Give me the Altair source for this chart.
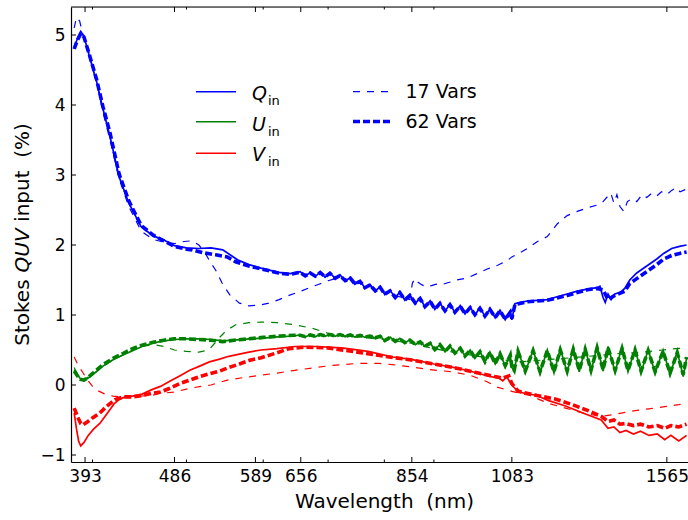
import altair as alt
import pandas as pd

# ---------------- data ----------------
# Q input (blue, solid)
q_in_wl = [383, 386, 389, 392, 397, 404, 410, 417, 426, 436, 449, 462, 474, 486, 500, 515, 530, 545, 556, 566, 580, 597, 622, 640,
           655, 663, 671, 679, 687, 695, 703, 712, 720, 729, 738, 746, 755, 764, 773, 783, 792, 801, 811, 821, 830, 840, 850,
           861, 871, 881, 892, 902, 913, 924, 935, 946, 958, 969, 981, 992, 1004, 1016, 1028, 1041, 1053, 1066, 1079, 1083,
           1091, 1105, 1124, 1151, 1178, 1206, 1235, 1265, 1295, 1326, 1335, 1345, 1352, 1361, 1371, 1383, 1400, 1416, 1433,
           1457, 1492, 1528, 1553, 1583, 1613, 1640]
q_in_val = [4.83, 4.95, 5.05, 4.98, 4.7, 4.33, 3.95, 3.55, 2.98, 2.6, 2.26, 2.13, 2.07, 1.99, 1.96, 1.95, 1.96, 1.93, 1.85, 1.78, 1.72, 1.67, 1.61, 1.59,
            1.62, 1.555, 1.61, 1.55, 1.615, 1.54, 1.605, 1.52, 1.575, 1.485, 1.535, 1.44, 1.49, 1.385, 1.44, 1.34, 1.405, 1.29, 1.355,
            1.245, 1.33, 1.21, 1.29, 1.165, 1.245, 1.115, 1.205, 1.08, 1.175, 1.055, 1.155, 1.035, 1.135, 1.015, 1.115, 1.0, 1.105,
            0.98, 1.09, 0.96, 1.07, 0.93, 1.05, 0.93,
            1.16, 1.18, 1.2, 1.21, 1.22, 1.26, 1.3, 1.34, 1.37, 1.39, 1.41, 1.25, 1.18, 1.3, 1.22, 1.3, 1.32, 1.38, 1.5,
            1.6, 1.7, 1.8, 1.88, 1.95, 1.98, 2.0]

# Q, 62 Vars (blue, thick dashed)
q62_wl = [383, 386, 389, 392, 397, 404, 410, 417, 426, 436, 449, 462, 474, 486, 500, 507, 520, 536, 551, 562, 580, 597, 622, 640,
          655, 663, 671, 679, 687, 695, 703, 712, 720, 729, 738, 746, 755, 764, 773, 783, 792, 801, 811, 821, 830, 840, 850,
          861, 871, 881, 892, 902, 913, 924, 935, 946, 958, 969, 981, 992, 1004, 1016, 1028, 1041, 1053, 1066, 1079, 1083,
          1091, 1124, 1178, 1235, 1295, 1326, 1345, 1361, 1383, 1416, 1433, 1457, 1492, 1528, 1553, 1583, 1613, 1640]
q62_val = [4.8, 4.93, 5.02, 4.97, 4.72, 4.36, 3.98, 3.6, 3.02, 2.63, 2.28, 2.14, 2.06, 1.98, 1.94, 1.93, 1.89, 1.86, 1.83, 1.76, 1.7, 1.66, 1.6, 1.58,
           1.61, 1.56, 1.6, 1.555, 1.605, 1.545, 1.595, 1.525, 1.565, 1.49, 1.525, 1.445, 1.48, 1.39, 1.43, 1.345, 1.395, 1.295,
           1.345, 1.25, 1.32, 1.215, 1.28, 1.17, 1.235, 1.12, 1.195, 1.085, 1.165, 1.06, 1.145, 1.04, 1.125, 1.02, 1.105, 1.005,
           1.095, 0.985, 1.08, 0.965, 1.06, 0.94, 1.04, 0.95,
           1.15, 1.19, 1.21, 1.28, 1.36, 1.38, 1.36, 1.22, 1.28, 1.34, 1.45, 1.52, 1.62, 1.72, 1.8, 1.85, 1.88, 1.9]

# Q, 17 Vars (blue, thin dashed)
q17_wl = [383, 385, 388, 391, 395, 400, 405, 410, 417, 426, 436, 449, 462, 474, 486, 497, 507, 515, 522, 529, 536, 544, 554, 567,
          580, 594, 608, 623, 638, 653, 670, 685, 700, 717, 735, 755, 775, 800, 825, 850, 855, 860, 866, 875, 885, 895, 905, 915,
          930, 950, 975, 1000, 1023, 1047, 1072, 1083, 1098, 1124, 1151, 1178, 1206, 1235, 1265, 1295, 1326, 1345, 1361, 1370,
          1380, 1390, 1400, 1413, 1425, 1440, 1457, 1475, 1492, 1510, 1528, 1545, 1565, 1583, 1600, 1615, 1640]
q17_val = [5.1, 5.25, 5.2, 5.0, 4.85, 4.55, 4.25, 3.9, 3.5, 2.95, 2.55, 2.2, 2.08, 2.04, 2.02, 2.05, 2.06, 2.0, 1.9, 1.76, 1.64, 1.46,
           1.29, 1.17, 1.13, 1.14, 1.17, 1.22, 1.28, 1.33, 1.39, 1.44, 1.49, 1.53, 1.5, 1.45, 1.4, 1.33, 1.27, 1.22, 1.45, 1.52,
           1.47, 1.43, 1.4, 1.42, 1.44, 1.43, 1.46, 1.5, 1.53, 1.6, 1.66, 1.71, 1.78, 1.83, 1.87, 1.95, 2.05, 2.12, 2.3, 2.42,
           2.48, 2.53, 2.57, 2.62, 2.7, 2.74, 2.6, 2.72, 2.55, 2.48, 2.62, 2.66, 2.62, 2.72, 2.68, 2.74, 2.7, 2.76, 2.72, 2.78,
           2.82, 2.76, 2.8]

# U input (green, solid)
u_in_wl = [383, 386, 389, 392, 396, 402, 410, 420, 430, 440, 450, 462, 474, 486, 500, 515, 530, 545, 560, 580, 600, 625, 645,
           655, 663, 671, 679, 687, 695, 703, 712, 720, 729, 738, 746, 755, 764, 773, 783, 792, 801, 811, 821, 830, 840, 850,
           861, 871, 881, 892, 902, 913, 924, 935, 946, 958, 969, 981, 992, 1004, 1016, 1028, 1041, 1053, 1066, 1079,
           1083, 1089, 1099, 1118, 1139, 1158, 1178, 1197, 1215, 1235, 1253, 1271, 1289, 1307, 1326, 1345, 1361, 1384, 1407,
           1427, 1451, 1472, 1497, 1522, 1551, 1577, 1604, 1627, 1640]
u_in_val = [0.22, 0.15, 0.08, 0.06, 0.1, 0.17, 0.27, 0.36, 0.43, 0.49, 0.55, 0.6, 0.63, 0.65, 0.66, 0.66, 0.65, 0.63, 0.64, 0.66, 0.67, 0.69, 0.70,
            0.715, 0.685, 0.72, 0.69, 0.725, 0.695, 0.725, 0.695, 0.725, 0.69, 0.72, 0.685, 0.715, 0.68, 0.705, 0.67, 0.7, 0.63,
            0.685, 0.62, 0.665, 0.6, 0.645, 0.575, 0.62, 0.55, 0.6, 0.5, 0.58, 0.475, 0.56, 0.45, 0.53, 0.41, 0.5, 0.38, 0.48,
            0.33, 0.47, 0.3, 0.45, 0.27, 0.43,
            0.25, 0.2, 0.5, 0.18, 0.5, 0.17, 0.5, 0.17, 0.52, 0.18, 0.53, 0.19, 0.53, 0.19, 0.56, 0.2, 0.55, 0.19, 0.55,
            0.19, 0.52, 0.18, 0.5, 0.17, 0.5, 0.15, 0.48, 0.12, 0.38]

# U, 62 Vars (green, thick dashed)
u62_wl = u_in_wl
u62_val = [0.2, 0.13, 0.08, 0.07, 0.11, 0.19, 0.29, 0.38, 0.45, 0.52, 0.57, 0.61, 0.64, 0.66, 0.66, 0.65, 0.64, 0.62, 0.64, 0.66, 0.68, 0.70, 0.71,
           0.71, 0.69, 0.715, 0.695, 0.72, 0.7, 0.72, 0.7, 0.72, 0.695, 0.715, 0.69, 0.71, 0.685, 0.7, 0.675, 0.695, 0.635, 0.68,
           0.625, 0.66, 0.605, 0.64, 0.58, 0.615, 0.555, 0.595, 0.505, 0.575, 0.48, 0.555, 0.455, 0.525, 0.415, 0.495, 0.385,
           0.475, 0.335, 0.465, 0.305, 0.445, 0.275, 0.425,
           0.26, 0.21, 0.48, 0.2, 0.49, 0.19, 0.49, 0.19, 0.5, 0.2, 0.51, 0.21, 0.51, 0.21, 0.53, 0.22, 0.53, 0.21, 0.52,
           0.21, 0.5, 0.2, 0.49, 0.19, 0.48, 0.17, 0.46, 0.15, 0.4]

# U, 17 Vars (green, thin dashed)
u17_wl = [383, 387, 392, 400, 410, 420, 430, 440, 450, 462, 474, 486, 500, 515, 527, 535, 541, 550, 562, 580, 597, 620, 647, 674,
          700, 720, 760, 800, 850, 900, 950, 1000, 1050, 1083, 1100, 1150, 1200, 1250, 1300, 1350, 1400, 1450, 1500, 1550, 1600, 1640]
u17_val = [0.25, 0.12, 0.08, 0.15, 0.26, 0.36, 0.43, 0.5, 0.55, 0.58, 0.55, 0.5, 0.48, 0.47, 0.5, 0.6, 0.68, 0.78, 0.86, 0.89,
           0.9, 0.89, 0.86, 0.81, 0.74, 0.71, 0.68, 0.65, 0.6, 0.52, 0.46, 0.41, 0.37, 0.34, 0.33, 0.35, 0.37, 0.39, 0.41, 0.43,
           0.45, 0.46, 0.48, 0.5, 0.52, 0.53]

# V input (red, solid)
v_in_wl = [383, 385, 387, 389, 392, 396, 401, 407, 412, 417, 421, 426, 432, 440, 450, 460, 470, 480, 492, 504, 516, 528, 541, 553,
           567, 580, 597, 620, 647, 680, 723, 770, 816, 850, 900, 937, 980, 1010, 1030, 1050, 1060, 1070, 1078, 1083, 1100, 1150,
           1180, 1230, 1282, 1339, 1361, 1380, 1400, 1420, 1446, 1470, 1500, 1530, 1557, 1580, 1610, 1640]
v_in_val = [-0.4, -0.62, -0.8, -0.87, -0.82, -0.72, -0.63, -0.55, -0.45, -0.35, -0.27, -0.21, -0.17, -0.16, -0.13, -0.07, -0.02,
            0.05, 0.13, 0.21, 0.27, 0.33, 0.37, 0.41, 0.44, 0.47, 0.5, 0.52, 0.55, 0.55, 0.53, 0.48, 0.4, 0.37, 0.3, 0.26, 0.2,
            0.15, 0.12, 0.1, 0.06, 0.12, 0.04, 0.0, -0.1, -0.15, -0.22, -0.3, -0.4, -0.5, -0.62, -0.6, -0.68, -0.65, -0.7, -0.66,
            -0.72, -0.7, -0.78, -0.72, -0.8, -0.72]

# V, 62 Vars (red, thick dashed)
v62_wl = [383, 386, 389, 391, 395, 400, 407, 414, 422, 430, 440, 450, 460, 470, 480, 492, 504, 516, 528, 541, 553, 567, 580, 597,
          620, 638, 660, 700, 750, 800, 850, 900, 950, 1000, 1040, 1060, 1075, 1083, 1100, 1150, 1200, 1250, 1300, 1340, 1361,
          1380, 1400, 1420, 1446, 1470, 1500, 1530, 1557, 1580, 1610, 1640]
v62_val = [-0.33, -0.45, -0.55, -0.57, -0.53, -0.47, -0.4, -0.3, -0.21, -0.17, -0.17, -0.15, -0.12, -0.1, -0.05, 0.02, 0.07, 0.12,
           0.16, 0.2, 0.25, 0.3, 0.35, 0.39, 0.46, 0.52, 0.54, 0.53, 0.47, 0.41, 0.36, 0.3, 0.24, 0.17, 0.12, 0.1, 0.13, 0.02,
           -0.09, -0.15, -0.2, -0.28, -0.37, -0.45, -0.52, -0.5, -0.56, -0.55, -0.58, -0.56, -0.6, -0.58, -0.62, -0.58, -0.6, -0.56]

# V, 17 Vars (red, thin dashed)
v17_wl = [383, 386, 390, 395, 400, 405, 412, 420, 430, 445, 460, 470, 486, 507, 530, 551, 575, 597, 620, 647, 680, 707, 753, 790,
          816, 850, 890, 937, 980, 1020, 1046, 1083, 1130, 1180, 1230, 1282, 1339, 1380, 1446, 1500, 1557, 1610, 1640]
v17_val = [0.4, 0.3, 0.2, 0.08, -0.02, -0.08, -0.13, -0.16, -0.17, -0.16, -0.15, -0.12, -0.1, -0.04, 0.0, 0.07, 0.11, 0.14, 0.17,
           0.21, 0.25, 0.28, 0.31, 0.31, 0.29, 0.26, 0.22, 0.19, 0.14, 0.05, -0.03, -0.09, -0.15, -0.26, -0.33, -0.4, -0.45, -0.42,
           -0.37, -0.34, -0.31, -0.28, -0.26]

# axis ticks / labels
x_major_ticks = [393, 486, 589, 656, 854, 1083, 1565]
x_minor_ticks = [400, 500, 600, 700, 800, 900]
y_ticks = [-1, 0, 1, 2, 3, 4, 5]

# ---------------- styling ----------------
W, H = 617, 455
BLUE, GREEN, RED = "#0000ff", "#008000", "#ff0000"
FONT = "DejaVu Sans"
SOLID_W, THIN_W, THICK_W = 1.7, 1.2, 3.6
THIN_DASH, THICK_DASH = [7, 7], [7, 3]

xscale = alt.Scale(type="log", domain=[380.1, 1645.6], nice=False)
yscale = alt.Scale(domain=[-1.1, 5.4], nice=False, zero=False)

xaxis = alt.Axis(values=x_major_ticks, format="d", labelFont=FONT, labelFontSize=17, labelColor="black",
                 labelPadding=6, tickSize=0, ticks=False, grid=False, domainColor="black", domainWidth=1.2,
                 labelFlush=False, labelOverlap=False,
                 title="Wavelength\u00a0 (nm)", titleFont=FONT, titleFontSize=20, titleFontWeight="normal",
                 titleColor="black", titleX=313, titleY=45, titleBaseline="alphabetic", titleAlign="center")
yaxis = alt.Axis(values=y_ticks, labelFont=FONT, labelFontSize=17, labelColor="black", labelPadding=6,
                 tickSize=0, ticks=False, grid=False, domainColor="black", domainWidth=1.2, title=None,
                 labelFlush=False, labelOverlap=False,
                 labelExpr="datum.value < 0 ? '\u2212' + format(-datum.value, 'd') : format(datum.value, 'd')")

X = lambda: alt.X("wl:Q", scale=xscale, axis=xaxis)
Y = lambda: alt.Y("val:Q", scale=yscale, axis=yaxis)


def series(wl, val, color, width, dash=None):
    kw = dict(color=color, strokeWidth=width, clip=True)
    if dash is not None:
        kw["strokeDash"] = dash
    return alt.Chart(pd.DataFrame({"wl": wl, "val": val})).mark_line(**kw).encode(x=X(), y=Y())


lines = [
    series(q_in_wl, q_in_val, BLUE, SOLID_W),
    series(u_in_wl, u_in_val, GREEN, SOLID_W),
    series(v_in_wl, v_in_val, RED, SOLID_W),
    series(q17_wl, q17_val, BLUE, THIN_W, THIN_DASH),
    series(u17_wl, u17_val, GREEN, THIN_W, THIN_DASH),
    series(v17_wl, v17_val, RED, THIN_W, THIN_DASH),
    series(q62_wl, q62_val, BLUE, THICK_W, THICK_DASH),
    series(u62_wl, u62_val, GREEN, THICK_W, THICK_DASH),
    series(v62_wl, v62_val, RED, THICK_W, THICK_DASH),
]

# inward ticks (matplotlib style) on bottom and top, and on the left
def xticks(values, length):
    df = pd.DataFrame({"wl": values})
    bottom = alt.Chart(df).mark_rule(color="black", strokeWidth=1).encode(
        x=X(), y=alt.value(H), y2=alt.value(H - length))
    top = alt.Chart(df).mark_rule(color="black", strokeWidth=1).encode(
        x=X(), y=alt.value(0), y2=alt.value(length))
    return [bottom, top]

ytick_layer = alt.Chart(pd.DataFrame({"val": y_ticks})).mark_rule(color="black", strokeWidth=1).encode(
    y=Y(), x=alt.value(0), x2=alt.value(5))

top_spine = alt.Chart().mark_rule(color="black", strokeWidth=1.2).encode(
    x=alt.value(0), x2=alt.value(W), y=alt.value(0))

# y-axis title with italic QUV
def ytitle_piece(text, ypos, italic=False):
    return alt.Chart().mark_text(angle=270, align="left", baseline="alphabetic", font=FONT, fontSize=20,
                                 fontStyle="italic" if italic else "normal", color="black").encode(
        x=alt.value(-42.5), y=alt.value(ypos), text=alt.value(text))

ytitle = [ytitle_piece("Stokes", 338.8), ytitle_piece("QUV", 265.4, True), ytitle_piece("input\u00a0 (%)", 214.9)]

# custom legend
def leg_line(x1, x2, y, color, width, dash=None):
    kw = dict(color=color, strokeWidth=width)
    if dash is not None:
        kw["strokeDash"] = dash
    return alt.Chart().mark_rule(**kw).encode(x=alt.value(x1), x2=alt.value(x2), y=alt.value(y))

def leg_text(x, y, text, size, italic=False):
    return alt.Chart().mark_text(align="left", baseline="alphabetic", font=FONT, fontSize=size,
                                 fontStyle="italic" if italic else "normal", color="black").encode(
        x=alt.value(x), y=alt.value(y), text=alt.value(text))

legend = []
for (name, color, ly, ty) in [("Q", BLUE, 84.7, 93), ("U", GREEN, 114.7, 123.5), ("V", RED, 146.3, 154)]:
    legend.append(leg_line(125, 165, ly, color, 1.6))
    legend.append(leg_text(181, ty, name, 19, True))
    legend.append(leg_text(197, ty + 5, "in", 13))
legend.append(leg_line(282, 320, 84.7, BLUE, THIN_W, THIN_DASH))
legend.append(leg_line(282, 320, 114.5, BLUE, THICK_W, THICK_DASH))
legend.append(leg_text(334.5, 91.3, "17 Vars", 19))
legend.append(leg_text(334.5, 121.3, "62 Vars", 19))

chart = alt.layer(
    *lines,
    *xticks(x_major_ticks, 5),
    *xticks(x_minor_ticks, 2.5),
    ytick_layer,
    top_spine,
    *ytitle,
    *legend,
).properties(
    width=W, height=H,
    padding={"left": 71, "top": 7, "right": 0, "bottom": 58},
    autosize=alt.AutoSizeParams(type="none"),
).configure_view(stroke=None).configure(background="white")

chart.save("out.html", embed_options={"renderer": "svg", "actions": False})
